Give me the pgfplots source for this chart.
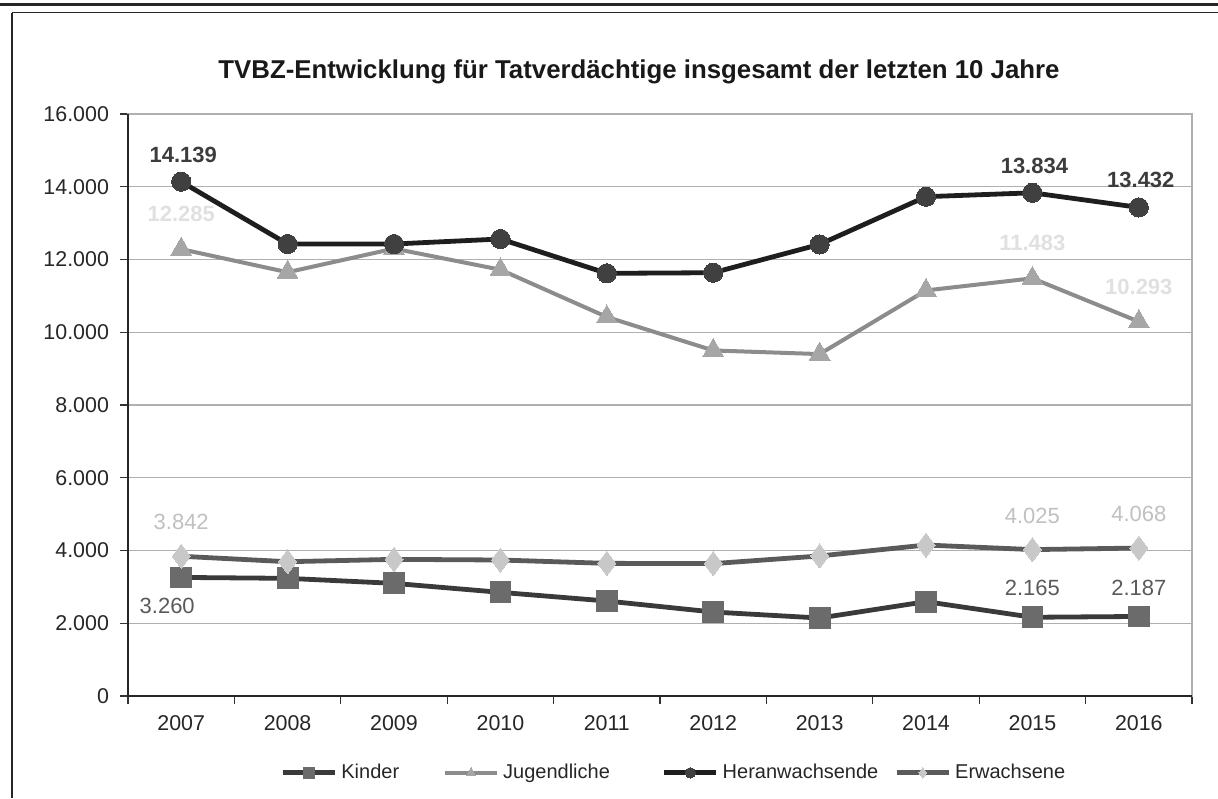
\documentclass[border=0pt]{standalone}
\usepackage{pgfplots}
\pgfplotsset{compat=1.18}
\usepackage{fontspec}
\setmainfont{Liberation Sans}

\definecolor{kline}{HTML}{3A3A3A}
\definecolor{kmark}{HTML}{6B6B6B}
\definecolor{klab}{HTML}{5A5A5A}
\definecolor{jline}{HTML}{8C8C8C}
\definecolor{jmark}{HTML}{A6A6A6}
\definecolor{jlab}{HTML}{E0E0E0}
\definecolor{hline}{HTML}{1E1E1E}
\definecolor{hmark}{HTML}{404040}
\definecolor{hlab}{HTML}{3C3C3C}
\definecolor{eline}{HTML}{5A5A5A}
\definecolor{emark}{HTML}{C8C8C8}
\definecolor{elab}{HTML}{C0C0C0}
\definecolor{gridgray}{HTML}{B0B0B0}

\begin{document}
\begin{tikzpicture}
% page frame, 1 px = 0.5 pt
\path[use as bounding box] (0pt,0pt) rectangle (609pt,-399pt);
\draw[line width=1.5pt, black!85] (0pt,-2.25pt) -- (609pt,-2.25pt);
\draw[line width=0.75pt, black!85] (6pt,-6.25pt) -- (609pt,-6.25pt);
\draw[line width=0.75pt, black!85] (6pt,-6.25pt) -- (6pt,-399pt);

\node[font=\bfseries\fontsize{12.9pt}{15pt}\selectfont, text=black!90]
  at (319.5pt,-36pt) {TVBZ-Entwicklung für Tatverdächtige insgesamt der letzten 10 Jahre};

\begin{axis}[
  at={(64pt,-348pt)}, anchor=south west,
  width=532pt, height=291pt, scale only axis,
  xmin=-0.5, xmax=9.5, ymin=0, ymax=16000,
  xtick={-0.5,0.5,1.5,2.5,3.5,4.5,5.5,6.5,7.5,8.5,9.5},
  x tick label as interval,
  xticklabels={2007,2008,2009,2010,2011,2012,2013,2014,2015,2016},
  ytick={0,2000,...,16000},
  scaled y ticks=false,
  yticklabel={\pgfmathprintnumber[fixed,precision=0,1000 sep={.},assume math mode=true]{\tick}},
  xtick pos=bottom, ytick pos=left,
  tick align=outside, major tick length=4pt,
  tick style={black!80, line width=0.6pt},
  ymajorgrids, grid style={gridgray, line width=0.7pt},
  axis line style={gridgray, line width=0.7pt},
  ticklabel style={font=\fontsize{10.7pt}{12pt}\selectfont, text=black!85},
  yticklabel style={xshift=-2pt},
  xticklabel style={yshift=-2pt},
  clip=false,
  point meta=explicit symbolic,
  legend columns=4,
  legend style={at={(0.514,-0.132)}, anchor=center, draw=none, fill=none,
    font=\fontsize{10pt}{12pt}\selectfont, text=black!85,
    /tikz/column 2/.style={column sep=20pt},
    /tikz/column 4/.style={column sep=24pt},
    /tikz/column 6/.style={column sep=6pt}},
  legend image code/.code={%
    \draw[mark repeat=2, mark phase=2, #1, mark size=2.6pt]
      plot coordinates {(0pt,0pt) (13pt,0pt) (26pt,0pt)};},
]
\addplot[kline, line width=2.4pt, mark=square*, mark size=5.2pt,
  mark options={fill=kmark, draw=kmark, line width=0pt},
  nodes near coords, nodes near coords align={center},
  every node near coord/.append style={text=klab, yshift=14.5pt,
    font=\fontsize{11pt}{13pt}\selectfont}]
  coordinates {
  (0,3260) [] (1,3235) [] (2,3097) [] (3,2850) [] (4,2612) []
  (5,2309) [] (6,2144) [] (7,2594) [] (8,2165) [2.165] (9,2187) [2.187]
};
\addlegendentry{Kinder}
\addplot[jline, line width=2pt, mark=triangle*, mark size=6pt,
  mark options={fill=jmark, draw=jmark, line width=0pt},
  nodes near coords, nodes near coords align={center},
  every node near coord/.append style={text=jlab, yshift=17.5pt,
    font=\bfseries\fontsize{11pt}{13pt}\selectfont}]
  coordinates {
  (0,12285) [12.285] (1,11650) [] (2,12300) [] (3,11720) [] (4,10420) []
  (5,9500) [] (6,9400) [] (7,11150) [] (8,11483) [11.483] (9,10293) [10.293]
};
\addlegendentry{Jugendliche}
\addplot[hline, line width=2.4pt, mark=*, mark size=4.8pt,
  mark options={fill=hmark, draw=hmark, line width=0pt},
  nodes near coords, nodes near coords align={center},
  every node near coord/.append style={text=hlab, yshift=13.5pt, xshift=1pt,
    font=\bfseries\fontsize{11pt}{13pt}\selectfont}]
  coordinates {
  (0,14139) [14.139] (1,12426) [] (2,12426) [] (3,12564) [] (4,11620) []
  (5,11637) [] (6,12415) [] (7,13727) [] (8,13834) [13.834] (9,13432) [13.432]
};
\addlegendentry{Heranwachsende}
\addplot[eline, line width=2.4pt, mark=diamond*, mark size=6pt,
  mark options={fill=emark, draw=emark, line width=0pt},
  nodes near coords, nodes near coords align={center},
  every node near coord/.append style={text=elab, yshift=17pt,
    font=\fontsize{11pt}{13pt}\selectfont}]
  coordinates {
  (0,3842) [3.842] (1,3692) [] (2,3757) [] (3,3739) [] (4,3647) []
  (5,3640) [] (6,3850) [] (7,4151) [] (8,4025) [4.025] (9,4068) [4.068]
};
\addlegendentry{Erwachsene}
% label of the first Kinder value sits below left of its point
\addplot[draw=none, forget plot, nodes near coords, nodes near coords align={center},
  every node near coord/.append style={text=klab, yshift=-14pt, xshift=-7pt,
    font=\fontsize{11pt}{13pt}\selectfont}]
  coordinates {(0,3260) [3.260]};
% dark left and bottom axis lines over the light frame
\draw[black!85, line width=0.8pt] (rel axis cs:0,1) -- (rel axis cs:0,0) -- (rel axis cs:1,0);
\end{axis}
\end{tikzpicture}
\end{document}
